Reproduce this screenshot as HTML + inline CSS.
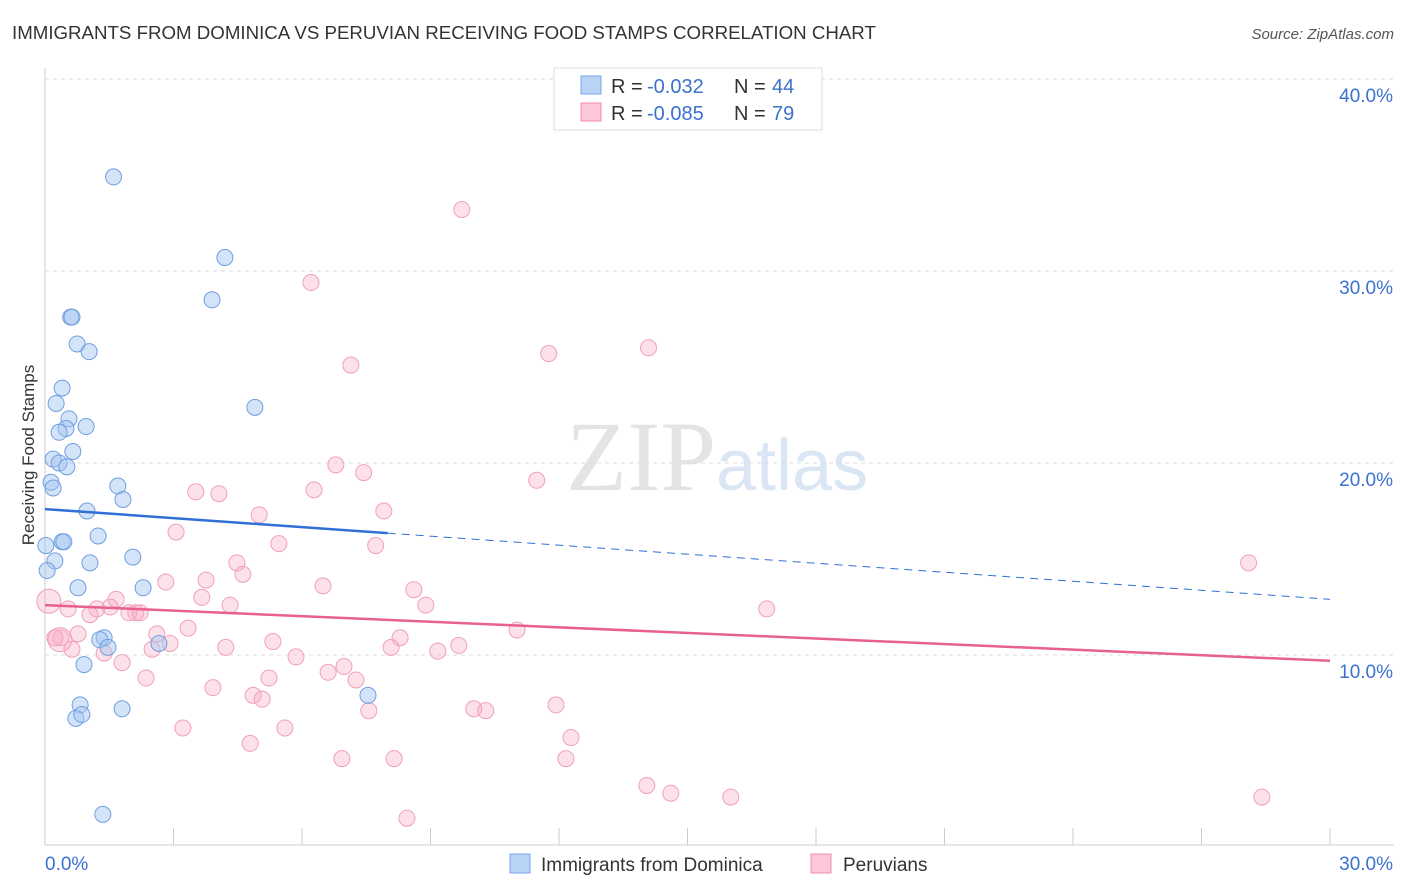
<!DOCTYPE html>
<html><head><meta charset="utf-8"><style>
body{margin:0;background:#fff;font-family:"Liberation Sans",sans-serif;}
svg{display:block}
</style></head><body>
<svg id="chart" width="1406" height="892" xmlns="http://www.w3.org/2000/svg">
<text x="12" y="39" font-size="18.7" fill="#333">IMMIGRANTS FROM DOMINICA VS PERUVIAN RECEIVING FOOD STAMPS CORRELATION CHART</text>
<text x="1394" y="39" font-size="15" fill="#555" text-anchor="end" font-style="italic">Source: ZipAtlas.com</text>
<text x="716" y="490" font-size="100" fill="#e4e4e4" text-anchor="end" font-family="Liberation Serif">ZIP</text>
<text x="716" y="490" font-size="72" fill="#dbe6f5">atlas</text>
<g id="grid"></g><g id="axes"></g><g id="pts"></g><g id="trend"></g>
<text transform="translate(34,455) rotate(-90)" font-size="17" fill="#333" text-anchor="middle">Receiving Food Stamps</text>
<g>
<rect x="554" y="68" width="268" height="62" fill="#fff" stroke="#ddd"/>
<rect x="581" y="76" width="20" height="18" fill="#b9d3f5" stroke="#7aa6e6"/>
<text x="611" y="93" font-size="20" fill="#333">R =</text>
<text x="647" y="93" font-size="20" fill="#3b71d0">-0.032</text>
<text x="734" y="93" font-size="20" fill="#333">N =</text>
<text x="772" y="93" font-size="20" fill="#3b71d0">44</text>
<rect x="581" y="103" width="20" height="18" fill="#fcc8d8" stroke="#f08cab"/>
<text x="611" y="120" font-size="20" fill="#333">R =</text>
<text x="647" y="120" font-size="20" fill="#3b71d0">-0.085</text>
<text x="734" y="120" font-size="20" fill="#333">N =</text>
<text x="772" y="120" font-size="20" fill="#3b71d0">79</text>
</g>
<g>
<rect x="510" y="854" width="20" height="19" fill="#b9d3f5" stroke="#7aa6e6"/>
<text x="541" y="871" font-size="19" fill="#333">Immigrants from Dominica</text>
<rect x="811" y="854" width="20" height="19" fill="#fcc8d8" stroke="#f08cab"/>
<text x="843" y="871" font-size="19" fill="#333">Peruvians</text>
</g>
</svg>
<script>
const blueX=[1.6,4.2,3.9,0.6,0.63,0.75,1.03,0.4,0.26,4.9,0.56,0.49,0.96,0.33,0.65,0.19,0.33,0.51,0.14,0.19,1.7,1.82,0.98,0.4,0.44,1.24,0.02,2.05,0.23,1.05,0.05,0.77,2.29,1.38,1.28,1.47,2.66,0.91,7.54,0.82,0.72,0.86,1.8,1.35];
const blueY=[34.9,30.7,28.5,27.6,27.6,26.2,25.8,23.9,23.1,22.9,22.3,21.8,21.9,21.6,20.6,20.2,20.0,19.8,19.0,18.7,18.8,18.1,17.5,15.9,15.9,16.2,15.7,15.1,14.9,14.8,14.4,13.5,13.5,10.9,10.8,10.4,10.6,9.5,7.9,7.4,6.7,6.9,7.2,1.7];
const pinkX=[9.73,6.21,11.76,14.09,7.14,6.79,7.44,11.48,6.28,3.52,4.06,7.91,5.0,3.06,5.46,7.72,4.48,28.1,4.62,2.82,3.76,6.49,8.61,3.66,1.66,4.32,8.89,1.21,0.54,1.52,2.12,16.85,1.96,2.22,1.05,3.34,11.02,2.61,0.77,8.29,9.66,2.92,0.37,0.23,5.32,4.22,8.08,9.17,2.5,0.63,1.38,5.86,1.8,6.98,6.61,2.36,5.23,7.26,3.92,4.86,5.07,11.93,10.01,10.29,7.56,3.22,5.6,12.28,4.79,6.93,8.15,12.16,14.05,14.61,16.01,28.41,8.45,0.09,0.35];
const pinkY=[33.2,29.4,25.7,26.0,25.1,19.9,19.5,19.1,18.6,18.5,18.4,17.5,17.3,16.4,15.8,15.7,14.8,14.8,14.2,13.8,13.9,13.6,13.4,13.0,12.9,12.6,12.6,12.4,12.4,12.5,12.2,12.4,12.2,12.2,12.1,11.4,11.3,11.1,11.1,10.9,10.5,10.6,10.9,10.9,10.7,10.4,10.4,10.2,10.3,10.3,10.1,9.9,9.6,9.4,9.1,8.8,8.8,8.7,8.3,7.9,7.7,7.4,7.2,7.1,7.1,6.2,6.2,5.7,5.4,4.6,4.6,4.6,3.2,2.8,2.6,2.6,1.5,12.8,10.8];
const yTicks=[10,20,30,40];
const xTickLabels=["0.0%","30.0%"];
const blueTrend=[17.6,12.9];
const pinkTrend=[12.6,9.7];
const NS="http://www.w3.org/2000/svg";
const X0=45,X1=1330,Y0=847,PY=19.2;
function sx(v){return X0+v/30*(X1-X0);}
function sy(v){return Y0-v*PY;}
function mk(tag,attrs,parent){const e=document.createElementNS(NS,tag);for(const k in attrs)e.setAttribute(k,attrs[k]);document.getElementById(parent).appendChild(e);return e;}
yTicks.forEach(t=>{
 const l=mk('line',{x1:45,x2:1394,y1:sy(t),y2:sy(t),stroke:'#ddd','stroke-dasharray':'4,4'},'grid');
 
 
 const tx=mk('text',{x:1393,y:sy(t)+23,'font-size':19,fill:'#3b71d0','text-anchor':'end'},'grid');
 tx.textContent=t.toFixed(1)+'%';
 
 
});
const ax=mk('line',{x1:45,x2:1394,y1:845,y2:845,stroke:'#ccc'},'axes');


const ay=mk('line',{x1:45,x2:45,y1:68,y2:845,stroke:'#ccc'},'axes');


for(let i=0;i<=10;i++){const t=mk('line',{x1:sx(i*3),x2:sx(i*3),y1:828,y2:845,stroke:'#ccc'},'axes');
 
 }
const xl0=mk('text',{x:45,y:870,'font-size':19,fill:'#3b71d0'},'axes');xl0.textContent=xTickLabels[0];


const xl1=mk('text',{x:1393,y:870,'font-size':19,fill:'#3b71d0','text-anchor':'end'},'axes');xl1.textContent=xTickLabels[1];


pinkX.forEach((v,i)=>{const big=i>=77;const c=mk('circle',{cx:sx(v),cy:sy(pinkY[i]),r:big?12:8,fill:'rgba(248,170,195,0.35)',stroke:'#f0a0ba','stroke-width':1},'pts');
 
 });
blueX.forEach((v,i)=>{const c=mk('circle',{cx:sx(v),cy:sy(blueY[i]),r:8,fill:'rgba(160,195,240,0.45)',stroke:'#6f9ee0','stroke-width':1},'pts');
 
 });
const bAt=v=>blueTrend[0]+(blueTrend[1]-blueTrend[0])*v/30;
const b1=mk('line',{x1:sx(0),y1:sy(bAt(0)),x2:sx(8),y2:sy(bAt(8)),stroke:'#2f6fd6','stroke-width':2.5},'trend');


const b2=mk('line',{x1:sx(8),y1:sy(bAt(8)),x2:sx(30),y2:sy(bAt(30)),stroke:'#2f6fd6','stroke-width':1,'stroke-dasharray':'8,6'},'trend');


const p1=mk('line',{x1:sx(0),y1:sy(pinkTrend[0]),x2:sx(30),y2:sy(pinkTrend[1]),stroke:'#e8608c','stroke-width':2.5},'trend');


</script>
</body></html>
